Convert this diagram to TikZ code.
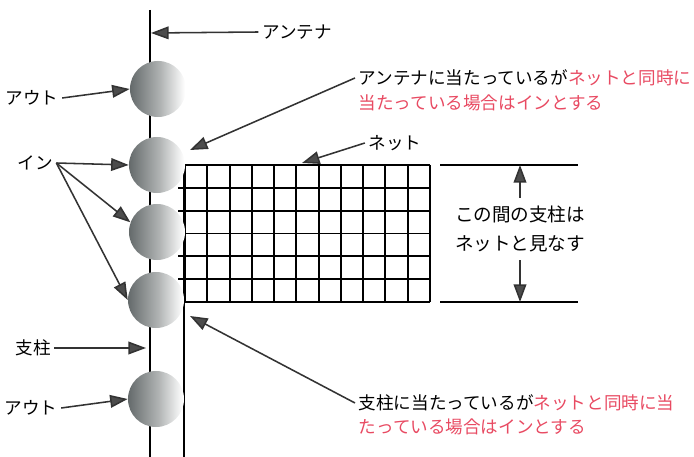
\documentclass[tikz,border=0pt]{standalone}
\usepackage{fontspec}
\setmainfont{Noto Sans CJK JP}
\usetikzlibrary{arrows.meta}

\definecolor{notered}{RGB}{232,74,98}
\definecolor{balldark}{RGB}{100,106,107}
\definecolor{ballmid}{RGB}{176,179,179}
\pgfdeclarehorizontalshading{sphere}{100bp}{%
  color(0bp)=(balldark); color(25bp)=(balldark); color(52bp)=(ballmid);
  color(74bp)=(white); color(100bp)=(white)}

\begin{document}
\begin{tikzpicture}[x=0.025cm, y=-0.025cm,
  lbl/.style={font=\fontsize{12.5}{17.5}\selectfont, inner sep=2.5pt},
  ptr/.style={draw=black!80, line width=1.1pt,
    -{Triangle[length=12.5pt, width=9pt, fill=black!70]}},
  ball/.style={circle, shade, shading=sphere, minimum size=1.4cm, inner sep=0pt},
  post/.style={line width=1.3pt},
  mesh/.style={line width=1.4pt}]
  \useasboundingbox (0,0) rectangle (694,457);

  % Antenna and post
  \draw[post] (150,10) -- (150,457);
  \draw[post] (184,165) -- (184,457);

  % Net
  \foreach \i in {0,...,11}
    \draw[mesh] (185+\i*22.27,165) -- (185+\i*22.27,302);
  \foreach \j in {0,6}
    \draw[mesh] (185,165+\j*22.83) -- (430,165+\j*22.83);
  \foreach \j in {1,...,5}
    \draw[mesh] (178,165+\j*22.83) -- (430,165+\j*22.83);

  % Balls
  \node[ball] (b1) at (158,89) {};
  \node[ball] (b2) at (157,165) {};
  \node[ball] (b3) at (157,232) {};
  \node[ball] (b4) at (156,300) {};
  \node[ball] (b5) at (156,399) {};

  % Labels on the left
  \node[lbl] (ant) at (297,32) {アンテナ};
  \node[lbl] (out1) at (32,98) {アウト};
  \node[lbl] (in) at (35,163) {イン};
  \node[lbl] (post) at (33,348) {支柱};
  \node[lbl] (out2) at (31,408) {アウト};
  \node[lbl] (net) at (395,143) {ネット};

  \coordinate (anttip) at (151,33);
  \coordinate (posttip) at (146,348);
  \draw[ptr] (ant.west) -- (anttip);
  \draw[ptr] (out1.east) -- (b1.west);
  \draw[ptr] (in.east) -- (b2.west);
  \draw[ptr] (in.east) -- (b3.160);
  \draw[ptr] (in.east) -- (b4.west);
  \draw[ptr] (post.east) -- (posttip);
  \draw[ptr] (out2.east) -- (b5.west);

  % Net and its height
  \coordinate (nettip) at (302,163);
  \draw[ptr] (net.west) -- (nettip);
  \draw[mesh] (440,165) coordinate (dimtop) -- (578,165);
  \draw[mesh] (440,302) coordinate (dimbot) -- (578,302);
  \node[lbl, align=center, font=\fontsize{13.2}{20}\selectfont, inner sep=6pt]
    (span) at (520,229) {この間の支柱は\\ネットと見なす};
  \draw[ptr] (span.north) -- (520,165);
  \draw[ptr] (span.south) -- (520,302);

  % Notes
  \node[lbl, anchor=west] (anthit) at (355,78)
    {アンテナに当たっているが\textcolor{notered}{ネットと同時に}};
  \node[lbl, anchor=west, text=notered] (anthit2) at (355,103)
    {当たっている場合はインとする};
  \node[lbl, anchor=west] (posthit) at (355,403)
    {支柱に当たっているが\textcolor{notered}{ネットと同時に当}};
  \node[lbl, anchor=west, text=notered] (posthit2) at (355,427)
    {たっている場合はインとする};

  \coordinate (anthittip) at (190,150);
  \coordinate (posthittip) at (190,316);
  \draw[ptr] (anthit.west) -- (anthittip);
  \draw[ptr] (posthit.west) -- (posthittip);
\end{tikzpicture}
\end{document}
